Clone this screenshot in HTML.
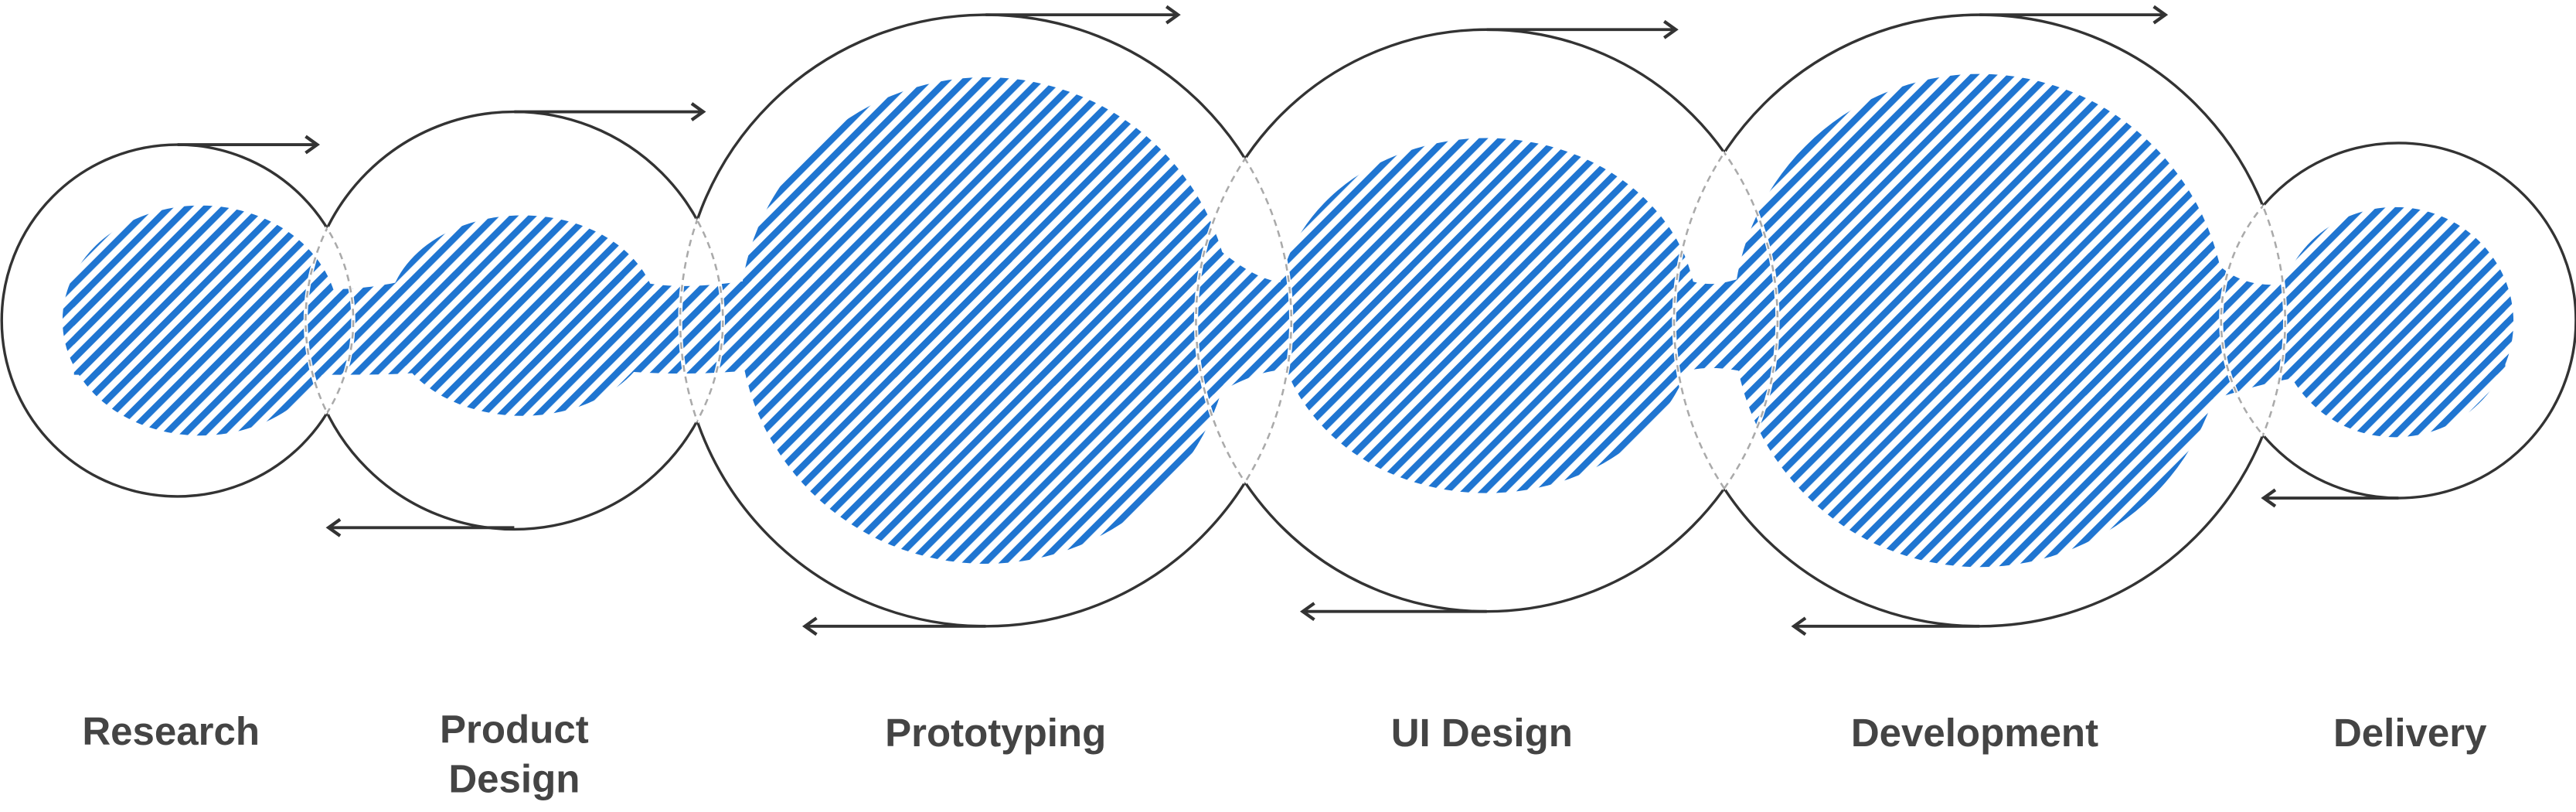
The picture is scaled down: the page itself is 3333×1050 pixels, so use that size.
<!DOCTYPE html>
<html><head><meta charset="utf-8"><style>
html,body{margin:0;padding:0;background:#fff;}
svg{display:block;}
</style></head><body>
<svg width="3333" height="1050" viewBox="0 0 1568 494" xmlns="http://www.w3.org/2000/svg">
<defs>
<pattern id="st" patternUnits="userSpaceOnUse" width="8" height="8" patternTransform="rotate(45)">
<rect x="0" y="0" width="4" height="8" fill="#1f75d1"/>
</pattern>
<marker id="ah" markerWidth="12" markerHeight="12" refX="10" refY="6" orient="auto" markerUnits="userSpaceOnUse">
<path d="M3,1 L10,6 L3,11" fill="none" stroke="#333" stroke-width="2"/>
</marker>
<clipPath id="c1"><circle cx="108" cy="195" r="107"/></clipPath>
<clipPath id="c2"><circle cx="313" cy="195" r="127"/></clipPath>
<clipPath id="c3"><circle cx="600" cy="195" r="186"/></clipPath>
<clipPath id="c4"><circle cx="905" cy="195" r="177"/></clipPath>
<clipPath id="c5"><circle cx="1205" cy="195" r="186"/></clipPath>
<clipPath id="c6"><circle cx="1460" cy="195" r="108"/></clipPath>
</defs>
<g fill="url(#st)">
<ellipse cx="122" cy="195" rx="84" ry="70"/>
<ellipse cx="318" cy="192" rx="82" ry="61"/>
<ellipse cx="600" cy="195" rx="150" ry="148"/>
<ellipse cx="905" cy="192" rx="128" ry="108"/>
<ellipse cx="1205" cy="195" rx="150" ry="150"/>
<ellipse cx="1458" cy="196" rx="72" ry="70"/>
<path d="M45,176 C150,176 170,176 200,176 C230,176 250,170 270,165 L370,165 C395,176 420,176 460,170 L740,150 C770,176 790,176 800,165 L1010,160 C1030,176 1045,176 1070,165 L1340,150 C1360,176 1380,176 1410,170 L1525,176 L1525,228 L1410,228 C1380,232 1370,236 1340,245 L1070,228 C1045,222 1030,222 1010,232 L800,230 C790,222 770,222 740,240 L460,225 C430,228 400,228 370,225 L270,225 C250,228 230,228 200,228 L45,228 Z"/>
</g>
<g fill="none" stroke="#333" stroke-width="1.6">
<circle cx="108" cy="195" r="107"/>
<circle cx="313" cy="195" r="127"/>
<circle cx="600" cy="195" r="186"/>
<circle cx="905" cy="195" r="177"/>
<circle cx="1205" cy="195" r="186"/>
<circle cx="1460" cy="195" r="108"/>
</g>
<g fill="none" stroke-width="2.5" stroke="#fff">
<g clip-path="url(#c2)"><circle cx="108" cy="195" r="107"/></g>
<g clip-path="url(#c1)"><circle cx="313" cy="195" r="127"/></g>
<g clip-path="url(#c3)"><circle cx="313" cy="195" r="127"/></g>
<g clip-path="url(#c2)"><circle cx="600" cy="195" r="186"/></g>
<g clip-path="url(#c4)"><circle cx="600" cy="195" r="186"/></g>
<g clip-path="url(#c3)"><circle cx="905" cy="195" r="177"/></g>
<g clip-path="url(#c5)"><circle cx="905" cy="195" r="177"/></g>
<g clip-path="url(#c4)"><circle cx="1205" cy="195" r="186"/></g>
<g clip-path="url(#c6)"><circle cx="1205" cy="195" r="186"/></g>
<g clip-path="url(#c5)"><circle cx="1460" cy="195" r="108"/></g>
</g>
<g fill="none" stroke-width="1.2" stroke="#aaa" stroke-dasharray="4,3">
<g clip-path="url(#c2)"><circle cx="108" cy="195" r="107"/></g>
<g clip-path="url(#c1)"><circle cx="313" cy="195" r="127"/></g>
<g clip-path="url(#c3)"><circle cx="313" cy="195" r="127"/></g>
<g clip-path="url(#c2)"><circle cx="600" cy="195" r="186"/></g>
<g clip-path="url(#c4)"><circle cx="600" cy="195" r="186"/></g>
<g clip-path="url(#c3)"><circle cx="905" cy="195" r="177"/></g>
<g clip-path="url(#c5)"><circle cx="905" cy="195" r="177"/></g>
<g clip-path="url(#c4)"><circle cx="1205" cy="195" r="186"/></g>
<g clip-path="url(#c6)"><circle cx="1205" cy="195" r="186"/></g>
<g clip-path="url(#c5)"><circle cx="1460" cy="195" r="108"/></g>
</g>
<g stroke="#333" stroke-width="1.8" fill="none" marker-end="url(#ah)">
<line x1="108" y1="88" x2="193" y2="88"/>
<line x1="313" y1="68" x2="428" y2="68"/>
<line x1="600" y1="9" x2="717" y2="9"/>
<line x1="905" y1="18" x2="1020" y2="18"/>
<line x1="1205" y1="9" x2="1318" y2="9"/>
<line x1="313" y1="321" x2="200" y2="321"/>
<line x1="600" y1="381" x2="490" y2="381"/>
<line x1="905" y1="372" x2="793" y2="372"/>
<line x1="1205" y1="381" x2="1092" y2="381"/>
<line x1="1460" y1="303" x2="1378" y2="303"/>
</g>
<g font-family="Liberation Sans, sans-serif" font-weight="bold" font-size="24" fill="#444" text-anchor="middle">
<text x="104" y="453">Research</text>
<text x="313" y="452">Product</text>
<text x="313" y="482">Design</text>
<text x="606" y="454">Prototyping</text>
<text x="902" y="454">UI Design</text>
<text x="1202" y="454">Development</text>
<text x="1467" y="454">Delivery</text>
</g>
</svg>
</body></html>
